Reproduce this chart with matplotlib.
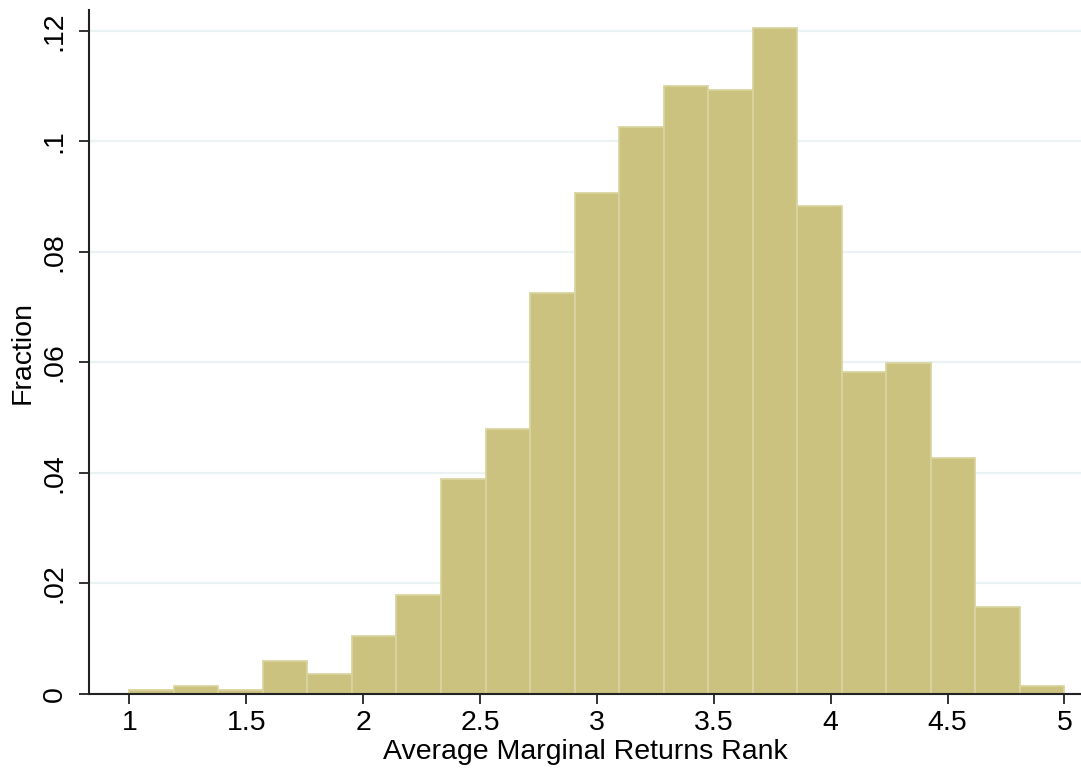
import numpy as np
import matplotlib
matplotlib.use("Agg")
import matplotlib.pyplot as plt
from matplotlib.ticker import FuncFormatter

# histogram of average marginal returns rank, 21 bins from 1 to 5
bin_lo = 1.0
bin_hi = 5.0
n_bins = 21
fractions = [0.0007, 0.0014, 0.0007, 0.0060, 0.0037, 0.0105, 0.0179,
             0.0389, 0.0479, 0.0726, 0.0906, 0.1026, 0.1100, 0.1093,
             0.1205, 0.0883, 0.0583, 0.0599, 0.0427, 0.0157, 0.0014]
xticks = [1, 1.5, 2, 2.5, 3, 3.5, 4, 4.5, 5]
yticks = [0, 0.02, 0.04, 0.06, 0.08, 0.10, 0.12]

edges = np.linspace(bin_lo, bin_hi, n_bins + 1)
width = edges[1] - edges[0]

plt.rcParams['font.family'] = ['Liberation Sans', 'DejaVu Sans']
FontSize = 20.5

fig = plt.figure(figsize=(10.81, 7.75), dpi=100)
ax = fig.add_axes([89 / 1081, 81 / 775, 992 / 1081, 684 / 775])

ax.bar(edges[:-1], fractions, width=width, align='edge',
       color='#CAC27E', edgecolor='#D9D49F', linewidth=1.3, zorder=2)

ax.set_xlim(0.8276, 5.071)
ax.set_ylim(0, 0.1238)
ax.set_xticks(xticks)
ax.set_yticks(yticks)
ax.xaxis.set_major_formatter(FuncFormatter(lambda v, p: f"{v:g}"))
ax.yaxis.set_major_formatter(
    FuncFormatter(lambda v, p: "0" if v == 0 else f"{v:g}".lstrip("0")))

ax.grid(axis='y', color='#EAF2F3', linewidth=1.6, zorder=0)
ax.set_axisbelow(True)

for s in ['top', 'right']:
    ax.spines[s].set_visible(False)
for s in ['left', 'bottom']:
    ax.spines[s].set_linewidth(1.5)
    ax.spines[s].set_color('#222222')

ax.tick_params(axis='both', length=7.5, width=1.3, color='#222222',
               labelsize=FontSize)
ax.tick_params(axis='x', pad=4)
ax.tick_params(axis='y', pad=8)
for lab in ax.get_yticklabels():
    lab.set_rotation(90)
    lab.set_va('center')

ax.set_xlabel("Average Marginal Returns Rank", fontsize=FontSize, labelpad=2)
ax.set_ylabel("Fraction", fontsize=FontSize, labelpad=4)

fig.savefig("out.png", dpi=100)
